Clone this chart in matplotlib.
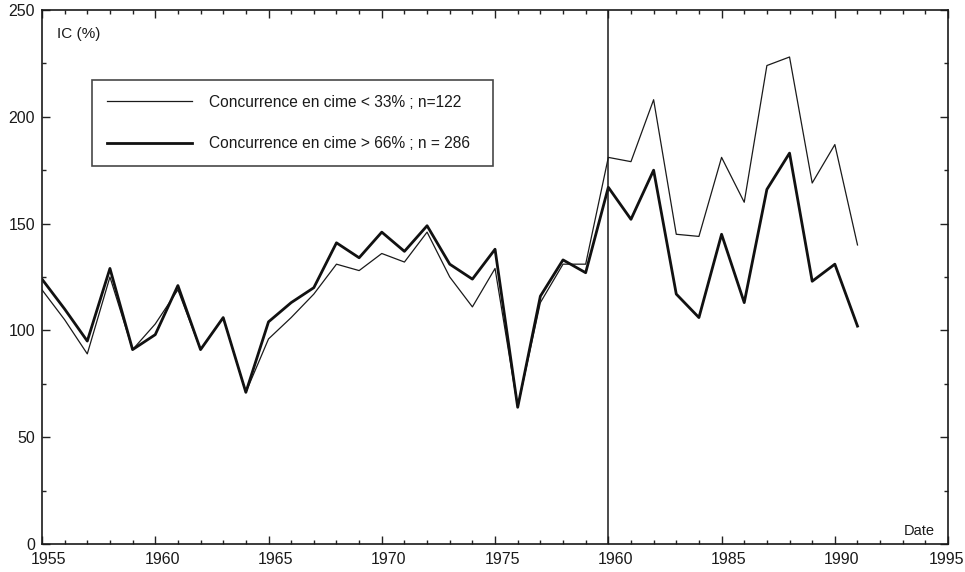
import matplotlib
matplotlib.use("Agg")
import matplotlib.pyplot as plt
from matplotlib.ticker import MultipleLocator, FixedLocator, FixedFormatter
import matplotlib.transforms as mtransforms

plt.rcParams['font.family'] = ['Liberation Sans', 'DejaVu Sans']

years = list(range(1955, 1992))
ic_low = [119, 105, 89, 125, 91, 103, 119, 91, 106, 71, 96, 106, 117, 131, 128, 136, 132, 146,
          125, 111, 129, 64, 113, 131, 131, 181, 179, 208, 145, 144, 181, 160, 224, 228, 169, 187, 140]
ic_high = [124, 110, 95, 129, 91, 98, 121, 91, 106, 71, 104, 113, 120, 141, 134, 146, 137, 149,
           131, 124, 138, 64, 116, 133, 127, 167, 152, 175, 117, 106, 145, 113, 166, 183, 123, 131, 102]
label_low = "Concurrence en cime < 33% ; n=122"
label_high = "Concurrence en cime > 66% ; n = 286"
xtick_pos = [1955, 1960, 1965, 1970, 1975, 1980, 1985, 1990, 1995]
xtick_labels = ['1955', '1960', '1965', '1970', '1975', '1960', '1985', '1990', '1995']
ytick_pos = [0, 50, 100, 150, 200, 250]
split_year = 1980

fig = plt.figure(figsize=(9.65, 5.72), dpi=100)
ax = fig.add_axes([0.0435, 0.049, 0.939, 0.9335])

ax.plot(years, ic_low, color='#1a1a1a', lw=0.9, label=label_low)
ax.plot(years, ic_high, color='#111111', lw=2.0, label=label_high)
ax.axvline(split_year, color='#1a1a1a', lw=1.1)

ax.set_xlim(1955, 1995)
ax.set_ylim(0, 250)
ax.xaxis.set_major_locator(FixedLocator(xtick_pos))
ax.xaxis.set_major_formatter(FixedFormatter(xtick_labels))
ax.xaxis.set_minor_locator(MultipleLocator(1))
ax.yaxis.set_major_locator(FixedLocator(ytick_pos))
ax.yaxis.set_minor_locator(MultipleLocator(25))
ax.tick_params(which='both', direction='in', top=True, right=True, color='#222222',
               labelsize=11.5, labelcolor='#1a1a1a')
ax.tick_params(which='major', length=6, width=1)
ax.tick_params(which='minor', length=3, width=1)
ax.tick_params(axis='x', pad=6)
ax.tick_params(axis='y', pad=5)
xlabs = ax.get_xticklabels()
for i, lab in enumerate(xlabs):
    dx = 0.07 if i < len(xlabs) - 1 else -0.02
    lab.set_transform(lab.get_transform() + mtransforms.ScaledTranslation(dx, 0, fig.dpi_scale_trans))
for s in ax.spines.values():
    s.set_linewidth(1.2)
    s.set_color('#1a1a1a')

ax.text(0.017, 0.955, "IC (%)", transform=ax.transAxes, fontsize=11, va='center', ha='left',
        color='#1a1a1a')
ax.text(0.985, 0.024, "Date", transform=ax.transAxes, fontsize=10.5, va='center', ha='right',
        color='#1a1a1a')

leg = ax.legend(loc='upper left', bbox_to_anchor=(0.055, 0.719, 0.4426, 0.15), mode='expand',
                borderaxespad=0, fontsize=11.2, frameon=True, fancybox=False,
                edgecolor='#1a1a1a', handlelength=5.5, handletextpad=1.1,
                labelspacing=1.7, borderpad=0.95)
leg.get_frame().set_linewidth(1.2)
for t in leg.get_texts():
    t.set_color('#1a1a1a')

fig.savefig("out.png", dpi=100, facecolor='white')
